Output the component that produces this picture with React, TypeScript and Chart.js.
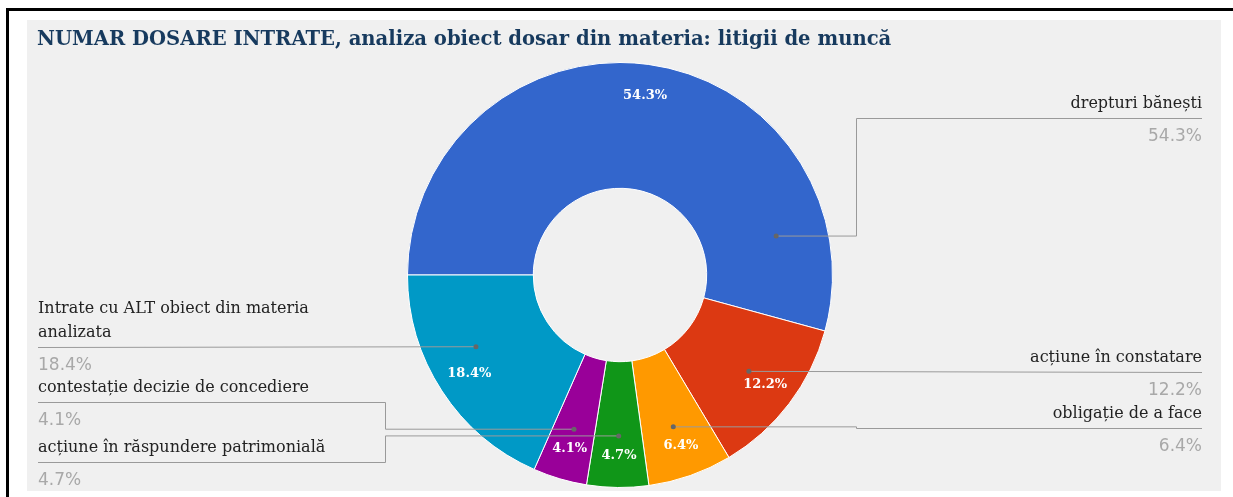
import { useEffect, useRef } from "react";
import { Chart, registerables } from "chart.js";

Chart.register(...registerables);

const chartTitle = "NUMAR DOSARE INTRATE, analiza obiect dosar din materia: litigii de muncă";
const categories = [
  "drepturi bănești",
  "acțiune în constatare",
  "obligație de a face",
  "acțiune în răspundere patrimonială",
  "contestație decizie de concediere",
  "Intrate cu ALT obiect din materia analizata",
];
const percentages = [54.3, 12.2, 6.4, 4.7, 4.1, 18.4];
const sliceColors = ["#3366cc", "#dc3912", "#ff9900", "#109618", "#990099", "#0099c6"];

// callout layout (canvas px): side, underline y, elbow x, dot position along slice
const calloutSide = ["right", "right", "right", "left", "left", "left"];
const calloutLineY = [98, 352, 408, 442, 382, 327];
const calloutElbowX = [829, null, 829, 358, 358, null];
const calloutDotFrac = [0.85, 0.49, 0.5, 0.49, 0.51, 0.6];

const W = 1194;
const H = 471;
const RIGHT_X = 1175;
const LEFT_X = 11;
const SERIF = '"DejaVu Serif", serif';
const SANS = '"DejaVu Sans", sans-serif';

function wrap(ctx: CanvasRenderingContext2D, text: string, maxW: number): string[] {
  const words = text.split(" ");
  const lines: string[] = [];
  let cur = "";
  for (const w of words) {
    const t = cur ? cur + " " + w : w;
    if (ctx.measureText(t).width > maxW && cur) {
      lines.push(cur);
      cur = w;
    } else cur = t;
  }
  if (cur) lines.push(cur);
  return lines;
}

const overlayPlugin = {
  id: "overlay",
  afterDraw(chart: any) {
    const ctx: CanvasRenderingContext2D = chart.ctx;
    const meta = chart.getDatasetMeta(0);
    ctx.save();
    // title
    ctx.font = `bold 19.6px ${SERIF}`;
    ctx.fillStyle = "#173a5e";
    ctx.textAlign = "left";
    ctx.textBaseline = "alphabetic";
    ctx.fillText(chartTitle, 10, 25);

    meta.data.forEach((arc: any, i: number) => {
      const { x, y, startAngle, endAngle, innerRadius, outerRadius } = arc.getProps(
        ["x", "y", "startAngle", "endAngle", "innerRadius", "outerRadius"],
        true
      );
      const pct = percentages[i].toFixed(1) + "%";
      // inner label
      const mid = (startAngle + endAngle) / 2;
      const rl = innerRadius + 0.75 * (outerRadius - innerRadius);
      ctx.font = `bold 13px ${SERIF}`;
      ctx.fillStyle = "#ffffff";
      ctx.textAlign = "center";
      ctx.textBaseline = "middle";
      ctx.fillText(pct, x + rl * Math.cos(mid) + 1, y + rl * Math.sin(mid));

      // callout
      const a = startAngle + calloutDotFrac[i] * (endAngle - startAngle);
      const rd = innerRadius + 0.59 * (outerRadius - innerRadius);
      const dx = x + rd * Math.cos(a);
      const dy = y + rd * Math.sin(a);
      const right = calloutSide[i] === "right";
      const endX = right ? RIGHT_X : LEFT_X;
      const ly = calloutLineY[i];
      const ex = calloutElbowX[i];
      ctx.strokeStyle = "#9a9a9a";
      ctx.lineWidth = 1;
      ctx.beginPath();
      ctx.moveTo(dx, dy);
      if (ex !== null) {
        ctx.lineTo(ex + 0.5, dy);
        ctx.lineTo(ex + 0.5, ly + 0.5);
      }
      ctx.lineTo(endX, ly + 0.5);
      ctx.stroke();
      ctx.fillStyle = "#666666";
      ctx.beginPath();
      ctx.arc(dx, dy, 2.5, 0, Math.PI * 2);
      ctx.fill();

      // name text
      ctx.font = `16px ${SERIF}`;
      ctx.fillStyle = "#222222";
      ctx.textAlign = right ? "right" : "left";
      ctx.textBaseline = "alphabetic";
      const lines = wrap(ctx, categories[i], 320);
      lines.forEach((ln, k) => {
        ctx.fillText(ln, endX, ly - 10 - (lines.length - 1 - k) * 24);
      });
      ctx.font = `17px ${SANS}`;
      ctx.fillStyle = "#a8a8a8";
      ctx.fillText(pct, endX, ly + 23);
    });
    ctx.restore();
  },
};

export default function App() {
  const ref = useRef<HTMLCanvasElement | null>(null);
  useEffect(() => {
    if (!ref.current) return;
    const chart = new Chart(ref.current, {
      type: "doughnut",
      data: {
        labels: categories,
        datasets: [
          {
            data: percentages,
            backgroundColor: sliceColors,
            borderColor: "#ffffff",
            borderWidth: 1,
          },
        ],
      },
      options: {
        responsive: false,
        animation: false,
        devicePixelRatio: 1,
        cutout: "40.8%",
        rotation: -90,
        layout: { padding: { left: 378, right: 386, top: 42, bottom: 3 } },
        plugins: {
          legend: { display: false },
          title: { display: false },
          tooltip: { enabled: false },
        },
      },
      plugins: [overlayPlugin],
    });
    return () => chart.destroy();
  }, []);

  return (
    <div style={{ position: "fixed", left: 0, top: 0, width: 1233, height: 497, background: "#fff" }}>
      <div
        style={{
          position: "absolute",
          left: 6,
          top: 8,
          width: 1227,
          height: 489,
          borderTop: "3px solid #000",
          borderLeft: "3px solid #000",
          boxSizing: "border-box",
        }}
      />
      <div style={{ position: "absolute", left: 27, top: 20, width: W, height: H, background: "#f0f0f0" }}>
        <canvas ref={ref} width={W} height={H} style={{ display: "block", width: W, height: H }} />
      </div>
    </div>
  );
}
